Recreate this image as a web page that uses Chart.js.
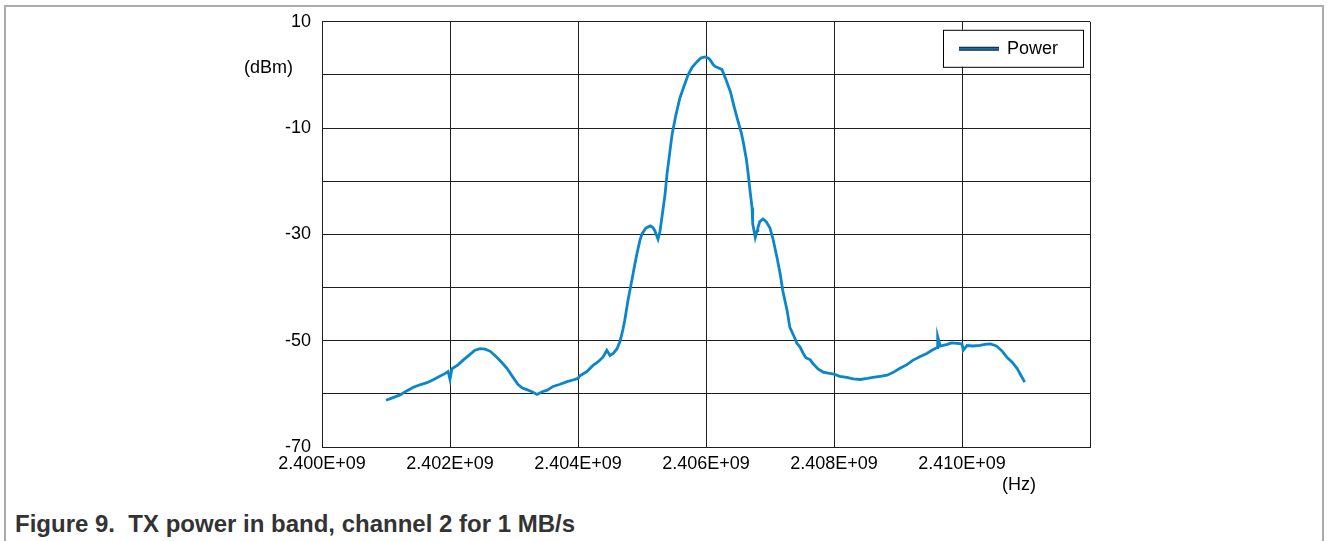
<!DOCTYPE html>
<html>
<head>
<meta charset="utf-8">
<script src="https://cdn.jsdelivr.net/npm/chart.js@4.4.1/dist/chart.umd.min.js"></script>
<style>
    body { margin: 0; background: #fff; }
    .frame {
        position: absolute; left: 4px; top: 5px; width: 1320px; height: 600px;
        border: 2px solid #ababab; border-bottom: none; box-sizing: border-box;
    }
    .chart-box { position: absolute; left: 0; top: 0; width: 1328px; height: 500px; }
    .caption {
        position: absolute; left: 15px; top: 512px;
        font: bold 24px "Liberation Sans", Arial, sans-serif; line-height: 24px;
        color: #333; white-space: nowrap;
    }
</style>
</head>
<body>
<div class="frame"></div>
<div class="chart-box"><canvas id="power-chart"></canvas></div>
<div class="caption">Figure 9.&nbsp; TX power in band, channel 2 for 1 MB/s</div>
<script>
// frequency in MHz, power in dBm
const freqMHz = [
    2401.00, 2401.09, 2401.22, 2401.33, 2401.42, 2401.53, 2401.64, 2401.73, 2401.84, 2401.92,
    2401.97, 2402.00, 2402.03, 2402.13, 2402.20, 2402.30, 2402.39, 2402.47, 2402.55, 2402.63,
    2402.73, 2402.81, 2402.89, 2402.98, 2403.06, 2403.13, 2403.20, 2403.28, 2403.36, 2403.44,
    2403.52, 2403.61, 2403.72, 2403.83, 2403.92, 2404.00, 2404.03, 2404.14, 2404.23, 2404.31,
    2404.39, 2404.45, 2404.50, 2404.55, 2404.61, 2404.66, 2404.70, 2404.73, 2404.78, 2404.84,
    2404.89, 2404.92, 2404.97, 2405.00, 2405.06, 2405.13, 2405.17, 2405.20, 2405.25, 2405.28,
    2405.31, 2405.36, 2405.39, 2405.44, 2405.47, 2405.53, 2405.59, 2405.66, 2405.72, 2405.78,
    2405.86, 2405.92, 2405.98, 2406.03, 2406.06, 2406.11, 2406.14, 2406.20, 2406.25, 2406.31,
    2406.38, 2406.44, 2406.50, 2406.55, 2406.58, 2406.63, 2406.66, 2406.69, 2406.72, 2406.73,
    2406.77, 2406.80, 2406.81, 2406.84, 2406.89, 2406.94, 2407.00, 2407.05, 2407.11, 2407.16,
    2407.20, 2407.27, 2407.31, 2407.38, 2407.42, 2407.47, 2407.52, 2407.56, 2407.63, 2407.67,
    2407.75, 2407.83, 2407.91, 2408.00, 2408.09, 2408.20, 2408.30, 2408.41, 2408.52, 2408.61,
    2408.72, 2408.83, 2408.92, 2409.03, 2409.14, 2409.23, 2409.34, 2409.45, 2409.53, 2409.61,
    2409.62, 2409.66, 2409.77, 2409.84, 2409.92, 2410.00, 2410.02, 2410.08, 2410.17, 2410.28,
    2410.36, 2410.44, 2410.52, 2410.55, 2410.63, 2410.70, 2410.78, 2410.86, 2410.92, 2410.98
];
const powerDbm = [
    -61.2, -60.8, -60.2, -59.4, -58.8, -58.3, -57.9, -57.4, -56.7, -56.2,
    -55.8, -57.3, -55.3, -54.5, -53.7, -52.7, -51.8, -51.5, -51.6, -52.0,
    -53.1, -54.1, -55.2, -56.8, -58.2, -58.9, -59.2, -59.6, -60.1, -59.6,
    -59.3, -58.6, -58.2, -57.7, -57.4, -57.1, -56.6, -55.8, -54.7, -54.0,
    -53.1, -51.8, -52.8, -52.4, -51.5, -50.0, -48.0, -46.2, -42.5, -38.7,
    -35.5, -33.7, -31.0, -29.9, -28.8, -28.4, -28.7, -29.3, -30.9, -29.5,
    -26.9, -22.5, -18.7, -14.0, -11.2, -7.5, -4.4, -2.0, 0.0, 1.4,
    2.5, 3.2, 3.4, 3.2, 2.9, 2.0, 1.6, 1.3, 1.0, -0.8,
    -3.1, -6.0, -8.7, -10.8, -12.5, -15.8, -18.7, -22.0, -25.0, -28.0,
    -30.6, -29.3, -28.8, -27.6, -27.1, -27.6, -28.8, -31.0, -34.4, -37.5,
    -40.6, -44.5, -47.5, -49.3, -50.5, -51.2, -52.4, -53.2, -53.6, -54.3,
    -55.3, -55.9, -56.1, -56.3, -56.7, -56.9, -57.2, -57.3, -57.1, -56.9,
    -56.7, -56.5, -56.0, -55.2, -54.5, -53.7, -53.0, -52.4, -51.8, -51.3,
    -49.2, -51.0, -50.7, -50.4, -50.5, -50.6, -51.8, -50.9, -51.0, -50.9,
    -50.7, -50.6, -50.9, -51.1, -52.0, -53.1, -54.0, -55.2, -56.5, -57.8
];
const yLabelValues = [10, -10, -30, -50, -70];
const seriesName = 'Power';

const FONT = '"Liberation Sans", Arial, sans-serif';
const GRID = '#1e1e1e';

// legend box inside the plot + unit labels
const extras = {
    id: 'extras',
    afterDraw(chart) {
        const ctx = chart.ctx;
        const area = chart.chartArea;
        ctx.save();
        // legend
        const lx = area.right - 147, ly = area.top + 8;
        ctx.fillStyle = '#fff';
        ctx.fillRect(lx, ly, 140, 37);
        ctx.strokeStyle = '#000';
        ctx.lineWidth = 1;
        ctx.strokeRect(lx + 0.5, ly + 0.5, 140, 37);
        ctx.beginPath();
        ctx.moveTo(lx + 16, ly + 19);
        ctx.lineTo(lx + 56, ly + 19);
        ctx.lineWidth = 4;
        ctx.strokeStyle = '#123';
        ctx.stroke();
        ctx.lineWidth = 2;
        ctx.strokeStyle = '#1b6fa6';
        ctx.stroke();
        ctx.fillStyle = '#000';
        ctx.font = '18px ' + FONT;
        ctx.textBaseline = 'middle';
        ctx.textAlign = 'left';
        ctx.fillText(seriesName, lx + 64, ly + 19);
        // units
        ctx.textAlign = 'right';
        ctx.fillText('(dBm)', area.left - 29, 68);
        ctx.textAlign = 'left';
        ctx.fillText('(Hz)', 1002, 485);
        ctx.restore();
    }
};

const data = {
    datasets: [{
        label: seriesName,
        data: freqMHz.map((f, i) => ({ x: f, y: powerDbm[i] })),
        borderColor: '#0b86c9',
        borderWidth: 2.8,
        pointRadius: 0,
        tension: 0,
    }]
};

const config = {
    type: 'line',
    data: data,
    options: {
        responsive: true,
        maintainAspectRatio: false,
        animation: false,
        layout: { padding: { top: 20, right: 238, bottom: 23, left: 0 } },
        plugins: {
            legend: { display: false },
            tooltip: { enabled: false },
        },
        scales: {
            x: {
                type: 'linear',
                min: 2400,
                max: 2412,
                afterFit: (scale) => { scale.height = 30; },
                ticks: {
                    stepSize: 2,
                    autoSkip: false,
                    maxRotation: 0,
                    padding: 6,
                    color: '#000',
                    font: { family: FONT, size: 18 },
                    callback: (v) => v > 2411 ? '' : (v / 1000).toFixed(3) + 'E+09',
                },
                grid: { color: GRID, lineWidth: 1, drawTicks: false },
                border: { color: GRID, width: 1 },
            },
            y: {
                min: -70,
                max: 10,
                afterFit: (scale) => { scale.width = 322; },
                ticks: {
                    stepSize: 10,
                    autoSkip: false,
                    padding: 11,
                    color: '#000',
                    font: { family: FONT, size: 18 },
                    callback: (v) => yLabelValues.includes(v) ? String(v) : '',
                },
                grid: { color: GRID, lineWidth: 1, drawTicks: false },
                border: { color: GRID, width: 1 },
            }
        }
    },
    plugins: [extras]
};

const powerChart = new Chart(document.getElementById('power-chart'), config);
</script>
</body>
</html>
